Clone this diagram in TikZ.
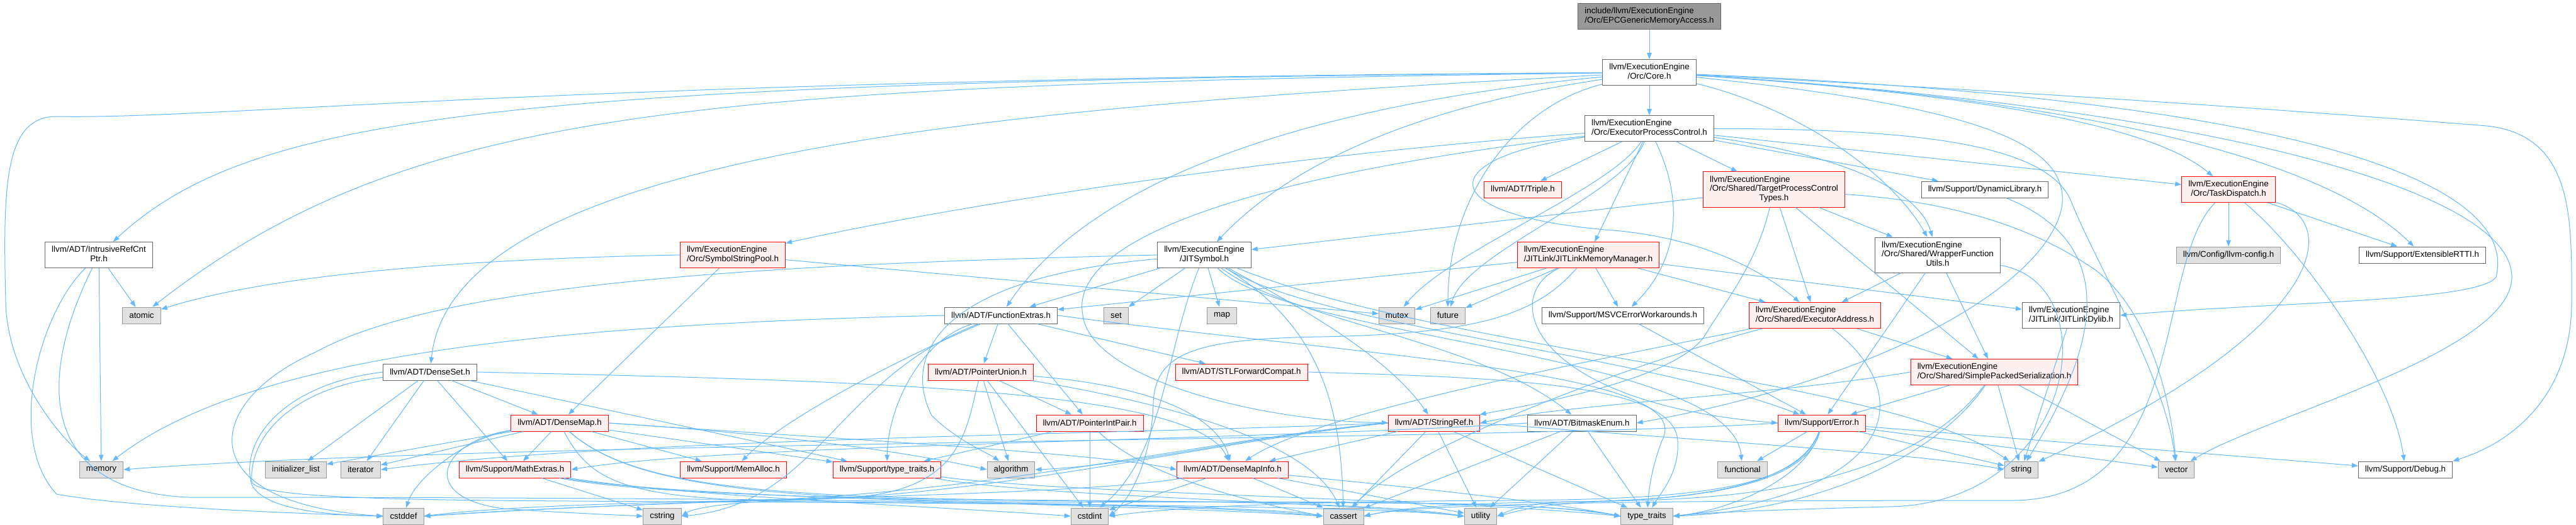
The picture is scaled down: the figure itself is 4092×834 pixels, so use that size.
\documentclass[tikz,border=0pt]{standalone}
\usepackage{fontspec}
\setmainfont{Liberation Sans}
\usetikzlibrary{arrows.meta}
\definecolor{edgeblue}{HTML}{63B8FF}
\definecolor{boxline}{HTML}{666666}
\definecolor{sysfill}{HTML}{E0E0E0}
\definecolor{sysline}{HTML}{999999}
\definecolor{redfill}{HTML}{FFF0F0}
\definecolor{rootfill}{HTML}{999999}
% doxygen style labels: upper lines left, last line centred
\newcommand{\twol}[2]{{\renewcommand{\arraystretch}{0.93}\begin{tabular}{@{}l@{}}#1\\\multicolumn{1}{@{}c@{}}{#2}\end{tabular}}}
\newcommand{\threel}[3]{{\renewcommand{\arraystretch}{0.93}\begin{tabular}{@{}l@{}}#1\\#2\\\multicolumn{1}{@{}c@{}}{#3}\end{tabular}}}

\begin{document}
\begin{tikzpicture}[x=0.75pt, y=-0.75pt,
  hdr/.style={draw=boxline, fill=white, line width=0.75pt, inner xsep=7.9pt, inner ysep=2pt,
    minimum height=19.5pt, font=\fontsize{10pt}{12pt}\selectfont},
  hdrred/.style={hdr, draw=red, fill=redfill},
  sys/.style={hdr, draw=sysline, fill=sysfill},
  rootf/.style={hdr, fill=rootfill},
  lines2/.style={minimum height=30.75pt},
  lines3/.style={minimum height=42pt},
  dep/.style={draw=edgeblue, line width=0.75pt, -{Triangle[length=7.5pt,width=5.5pt]}}]
\useasboundingbox (0,0) rectangle (4092,834);

% --- Rows 0-3: the file, Core.h, ExecutorProcessControl.h ---
\node[rootf, lines2] (root) at (2620,26) {\twol{include/llvm/ExecutionEngine}{/Orc/EPCGenericMemoryAccess.h}};
\node[hdr, lines2] (core) at (2620,115) {\twol{llvm/ExecutionEngine}{/Orc/Core.h}};
\node[hdr, lines2] (epc) at (2620,204) {\twol{llvm/ExecutionEngine}{/Orc/ExecutorProcessControl.h}};
\node[hdrred] (triple) at (2419,301) {llvm/ADT/Triple.h};
\node[hdrred, lines3] (tpct) at (2818,301) {\threel{llvm/ExecutionEngine}{/Orc/Shared/TargetProcessControl}{Types.h}};
\node[hdr] (dynlib) at (3153,301) {llvm/Support/DynamicLibrary.h};
\node[hdrred, lines2] (taskd) at (3540,301) {\twol{llvm/ExecutionEngine}{/Orc/TaskDispatch.h}};

% --- Row 4 ---
\node[hdr, lines2] (irc) at (157,405) {\twol{llvm/ADT/IntrusiveRefCnt}{Ptr.h}};
\node[hdrred, lines2] (ssp) at (1164,405) {\twol{llvm/ExecutionEngine}{/Orc/SymbolStringPool.h}};
\node[hdr, lines2] (jitsym) at (1913,405) {\twol{llvm/ExecutionEngine}{/JITSymbol.h}};
\node[hdrred, lines2] (jlmm) at (2523,405) {\twol{llvm/ExecutionEngine}{/JITLink/JITLinkMemoryManager.h}};
\node[hdr, lines3] (wfu) at (3078,405) {\threel{llvm/ExecutionEngine}{/Orc/Shared/WrapperFunction}{Utils.h}};
\node[sys] (llvmcfg) at (3540,405) {llvm/Config/llvm-config.h};
\node[hdr] (erttI) at (3848,405) {llvm/Support/ExtensibleRTTI.h};

% --- Row 5 ---
\node[sys] (atomic) at (225,501) {atomic};
\node[hdr] (fextras) at (1590,501) {llvm/ADT/FunctionExtras.h};
\node[sys] (set) at (1773,501) {set};
\node[sys] (map) at (1941,501) {map};
\node[sys] (mutex) at (2219,501) {mutex};
\node[sys] (future) at (2300,501) {future};
\node[hdr] (msvc) at (2578,501) {llvm/Support/MSVCErrorWorkarounds.h};
\node[hdrred, lines2] (execaddr) at (2883,501) {\twol{llvm/ExecutionEngine}{/Orc/Shared/ExecutorAddress.h}};
\node[hdr, lines2] (jldylib) at (3290,501) {\twol{llvm/ExecutionEngine}{/JITLink/JITLinkDylib.h}};

% --- Row 6 ---
\node[hdr] (denseset) at (683,591) {llvm/ADT/DenseSet.h};
\node[hdrred] (ptrunion) at (1558,591) {llvm/ADT/PointerUnion.h};
\node[hdrred] (stlfc) at (1972,591) {llvm/ADT/STLForwardCompat.h};
\node[hdrred, lines2] (sps) at (3168,591) {\twol{llvm/ExecutionEngine}{/Orc/Shared/SimplePackedSerialization.h}};

% --- Row 7 ---
\node[hdrred] (densemap) at (889,672) {llvm/ADT/DenseMap.h};
\node[hdrred] (ptrintpair) at (1731,672) {llvm/ADT/PointerIntPair.h};
\node[hdrred] (stringref) at (2278,672) {llvm/ADT/StringRef.h};
\node[hdr] (bitmask) at (2513,672) {llvm/ADT/BitmaskEnum.h};
\node[hdrred] (error) at (2894,672) {llvm/Support/Error.h};

% --- Row 8 ---
\node[sys] (memory) at (161,746) {memory};
\node[sys] (initlist) at (470,746) {initializer\_list};
\node[sys] (iterator) at (573,746) {iterator};
\node[hdrred] (mathext) at (818,746) {llvm/Support/MathExtras.h};
\node[hdrred] (memalloc) at (1165,746) {llvm/Support/MemAlloc.h};
\node[hdrred] (stypetraits) at (1409,746) {llvm/Support/type\_traits.h};
\node[sys] (algorithm) at (1606,746) {algorithm};
\node[hdrred] (dmi) at (1958,746) {llvm/ADT/DenseMapInfo.h};
\node[sys] (functional) at (2768,746) {functional};
\node[sys] (string) at (3211,746) {string};
\node[sys] (vector) at (3457,746) {vector};
\node[hdr] (debug) at (3821,746) {llvm/Support/Debug.h};

% --- Row 9 ---
\node[sys] (cstddef) at (641,820) {cstddef};
\node[sys] (cstring) at (1052,820) {cstring};
\node[sys] (cstdint) at (1731,820) {cstdint};
\node[sys] (cassert) at (2134,820) {cassert};
\node[sys] (utility) at (2352,820) {utility};
\node[sys] (typetraits) at (2616,820) {type\_traits};

% --- short dependencies ---
\foreach \a/\b in {root/core, core/epc, epc/triple, epc/tpct, epc/dynlib, epc/taskd, epc/jlmm,
  tpct/jitsym, tpct/execaddr, tpct/sps, tpct/wfu, taskd/llvmcfg, taskd/erttI,
  jlmm/fextras, jlmm/mutex, jlmm/future, jlmm/msvc, jlmm/execaddr, jlmm/jldylib,
  wfu/execaddr, wfu/sps, wfu/error, jldylib/string, msvc/error,
  jitsym/fextras, jitsym/set, jitsym/map, fextras/ptrunion, fextras/ptrintpair, fextras/stlfc,
  ptrunion/ptrintpair, ptrunion/algorithm, ptrunion/cstdint, ptrintpair/stypetraits, ptrintpair/cstdint,
  ssp/densemap, ssp/mutex, irc/atomic, irc/memory,
  denseset/densemap, denseset/mathext, denseset/stypetraits, denseset/initlist, denseset/iterator,
  densemap/mathext, densemap/memalloc, densemap/stypetraits, densemap/initlist, densemap/iterator,
  dmi/cassert, dmi/cstdint, dmi/utility, mathext/cstring,
  stringref/dmi, stringref/cassert, stringref/typetraits, stringref/utility,
  bitmask/cassert, bitmask/utility, bitmask/typetraits,
  execaddr/sps, sps/error, sps/string, sps/vector,
  error/debug, error/functional, error/string, error/vector}
  \draw[dep] (\a) -- (\b);

% --- Core.h ---
\draw[dep] (core) .. controls (800,130) and (400,180) .. (irc);
\draw[dep] (core) .. controls (900,125) and (350,190) .. (90,185) .. controls (5,185) and (5,300) .. (9,480) .. controls (12,600) and (100,700) .. (memory);
\draw[dep] (core) .. controls (1100,135) and (650,170) .. (atomic);
\draw[dep] (core) .. controls (1600,170) and (720,240) .. (denseset);
\draw[dep] (core) .. controls (2150,160) and (1750,260) .. (fextras);
\draw[dep] (core) .. controls (2250,170) and (2050,260) .. (jitsym);
\draw[dep] (core) .. controls (2400,170) and (2300,320) .. (future);
\draw[dep] (core) .. controls (3150,170) and (3290,230) .. (3275,330) .. controls (3250,450) and (3000,600) .. (bitmask.east);
\draw[dep] (core) .. controls (3700,160) and (4000,300) .. (3965,440) .. controls (3940,480) and (3600,480) .. (jldylib.east);
\draw[dep] (core) .. controls (2850,170) and (3000,270) .. (wfu);
\draw[dep] (core) .. controls (3150,150) and (3420,200) .. (taskd);
\draw[dep] (core) .. controls (3350,160) and (3700,260) .. (erttI);
\draw[dep] (core) .. controls (3300,150) and (3700,180) .. (3950,200) .. controls (4090,215) and (4085,350) .. (4085,480) .. controls (4085,620) and (4000,700) .. (debug.north east);
\draw[dep] (core) .. controls (3500,170) and (3990,300) .. (3990,440) .. controls (3990,560) and (3600,660) .. (vector);

% --- ExecutorProcessControl.h ---
\draw[dep] (epc) .. controls (2950,250) and (3050,310) .. (wfu);
\draw[dep] (epc) .. controls (2280,250) and (2270,340) .. (2550,365) .. controls (2700,375) and (2800,430) .. (execaddr);
\draw[dep] (epc) .. controls (2680,330) and (2660,420) .. (msvc);
\draw[dep] (epc) .. controls (2560,300) and (2300,400) .. (mutex);
\draw[dep] (epc) .. controls (2580,310) and (2330,400) .. (future);
\draw[dep] (epc) .. controls (2000,250) and (1500,330) .. (ssp);
\draw[dep] (epc) .. controls (1900,290) and (1700,400) .. (1720,500) .. controls (1730,600) and (2000,670) .. (stringref);
\draw[dep] (epc) .. controls (3000,205) and (3250,220) .. (3290,320) .. controls (3330,420) and (3440,600) .. (vector);

% --- TargetProcessControlTypes.h, DynamicLibrary.h, TaskDispatch.h ---
\draw[dep] (tpct) .. controls (2790,420) and (2740,480) .. (2710,530) .. controls (2670,600) and (2450,640) .. (stringref);
\draw[dep] (tpct) .. controls (3100,320) and (3230,360) .. (3330,430) .. controls (3420,500) and (3450,650) .. (vector);
\draw[dep] (dynlib) .. controls (3400,400) and (3300,600) .. (string);
\draw[dep] (taskd) .. controls (3660,400) and (3800,600) .. (debug);
\draw[dep] (taskd) .. controls (3720,350) and (3700,520) .. (string);
\draw[dep] (taskd) .. controls (3420,420) and (3480,790) .. (3200,795) .. controls (2600,795) and (2250,800) .. (cassert.east);

% --- JITLinkMemoryManager.h, WrapperFunctionUtils.h ---
\draw[dep] (jlmm) .. controls (2380,470) and (2430,640) .. (error.west);
\draw[dep] (jlmm) .. controls (2440,500) and (2350,530) .. (2100,535) .. controls (1900,538) and (1835,560) .. (1832,640) .. controls (1830,720) and (1800,790) .. (cstdint.east);
\draw[dep] (wfu) .. controls (3350,450) and (3300,800) .. (3000,805) .. controls (2800,810) and (2700,815) .. (typetraits.east);

% --- JITSymbol.h ---
\draw[dep] (jitsym) .. controls (1500,440) and (1430,560) .. (1480,660) .. controls (1520,700) and (1570,720) .. (algorithm);
\draw[dep] (jitsym.west) .. controls (1200,420) and (700,450) .. (500,560) .. controls (320,640) and (300,800) .. (cstddef.west);
\draw[dep] (jitsym) .. controls (1850,560) and (1850,720) .. (cstdint);
\draw[dep] (jitsym) .. controls (2100,520) and (2130,650) .. (cassert);
\draw[dep] (jitsym) .. controls (2050,480) and (2200,560) .. (stringref);
\draw[dep] (jitsym) .. controls (2050,510) and (2350,540) .. (bitmask);
\draw[dep] (jitsym) .. controls (2100,520) and (2600,560) .. (error);
\draw[dep] (jitsym) .. controls (2050,540) and (2750,560) .. (functional);
\draw[dep] (jitsym) .. controls (2300,560) and (3000,600) .. (string);

% --- FunctionExtras.h, PointerUnion.h, PointerIntPair.h, STLForwardCompat.h ---
\draw[dep] (fextras) .. controls (1450,560) and (1250,660) .. (memalloc);
\draw[dep] (fextras) .. controls (1460,540) and (1410,650) .. (stypetraits);
\draw[dep] (fextras) .. controls (1330,600) and (1300,800) .. (cstring.east);
\draw[dep] (fextras.west) .. controls (900,515) and (400,560) .. (memory);
\draw[dep] (fextras.east) .. controls (2200,570) and (2700,590) .. (2640,700) .. controls (2625,740) and (2620,770) .. (typetraits);
\draw[dep] (ptrunion) .. controls (1800,610) and (1930,650) .. (dmi);
\draw[dep] (ptrunion) .. controls (1850,640) and (2080,700) .. (cassert);
\draw[dep] (ptrunion) .. controls (1535,680) and (1530,780) .. (1350,790) .. controls (1000,800) and (800,812) .. (cstddef.east);
\draw[dep] (ptrintpair) .. controls (1820,760) and (2000,800) .. (cassert.west);
\draw[dep] (stlfc.east) .. controls (2400,600) and (2660,610) .. (2665,700) .. controls (2668,750) and (2640,780) .. (typetraits);

% --- SymbolStringPool.h, IntrusiveRefCntPtr.h ---
\draw[dep] (ssp.west) .. controls (800,410) and (450,430) .. (atomic);
\draw[dep] (irc) .. controls (60,500) and (10,700) .. (90,785) .. controls (200,805) and (450,815) .. (cstddef.west);
\draw[dep] (irc) .. controls (60,600) and (60,780) .. (300,790) .. controls (1200,790) and (2000,800) .. (cassert.west);

% --- DenseSet.h, DenseMap.h ---
\draw[dep] (denseset.east) .. controls (1400,605) and (1900,620) .. (dmi);
\draw[dep] (denseset.west) .. controls (450,610) and (380,700) .. (400,770) .. controls (420,810) and (520,818) .. (cstddef.west);
\draw[dep] (denseset) .. controls (470,615) and (395,690) .. (400,765) .. controls (405,795) and (700,795) .. (1100,797) .. controls (1700,800) and (2200,805) .. (utility.west);
\draw[dep] (densemap.east) .. controls (1300,695) and (1750,720) .. (dmi.west);
\draw[dep] (densemap.east) .. controls (1250,690) and (1450,720) .. (algorithm.west);
\draw[dep] (densemap) .. controls (940,770) and (1000,795) .. (1300,797) .. controls (1700,800) and (1950,805) .. (cassert.west);
\draw[dep] (densemap) .. controls (740,695) and (660,760) .. (cstddef);
\draw[dep] (densemap) .. controls (700,700) and (660,790) .. (800,808) .. controls (900,815) and (980,818) .. (cstring.west);
\draw[dep] (densemap) .. controls (1000,770) and (1200,795) .. (1700,798) .. controls (2200,795) and (2480,800) .. (typetraits.west);
\draw[dep] (densemap) .. controls (1000,770) and (1200,792) .. (1700,795) .. controls (2100,797) and (2250,808) .. (utility.west);

% --- DenseMapInfo.h, MathExtras.h, type_traits.h ---
\draw[dep] (dmi) .. controls (1700,790) and (1100,790) .. (cstddef.east);
\draw[dep] (dmi) .. controls (2200,770) and (2450,795) .. (typetraits.west);
\draw[dep] (mathext) .. controls (1100,795) and (1800,800) .. (cassert.west);
\draw[dep] (mathext) .. controls (1100,790) and (1500,805) .. (cstdint.west);
\draw[dep] (mathext) .. controls (1100,800) and (1800,795) .. (2300,800) .. controls (2450,803) and (2530,812) .. (typetraits.west);
\draw[dep] (stypetraits) .. controls (1700,785) and (2300,792) .. (typetraits.west);
\draw[dep] (stypetraits) .. controls (1650,790) and (2100,795) .. (utility.west);

% --- StringRef.h, BitmaskEnum.h ---
\draw[dep] (stringref.west) .. controls (2000,690) and (1800,740) .. (algorithm.east);
\draw[dep] (stringref.west) .. controls (1900,700) and (1600,780) .. (1200,795) .. controls (900,800) and (750,810) .. (cstddef.east);
\draw[dep] (stringref.west) .. controls (1900,705) and (1600,785) .. (1250,795) .. controls (1150,798) and (1100,808) .. (cstring.east);
\draw[dep] (stringref.west) .. controls (1800,690) and (1000,695) .. (iterator.east);
\draw[dep] (stringref.east) .. controls (2700,700) and (3050,720) .. (string.west);
\draw[dep] (bitmask.west) .. controls (2000,700) and (1150,705) .. (mathext.east);

% --- ExecutorAddress.h, SimplePackedSerialization.h ---
\draw[dep] (execaddr) .. controls (2600,560) and (2100,650) .. (dmi);
\draw[dep] (execaddr) .. controls (2650,560) and (2250,700) .. (cassert);
\draw[dep] (execaddr) .. controls (3040,620) and (3030,780) .. (typetraits.east);
\draw[dep] (sps) .. controls (3080,720) and (2900,810) .. (typetraits.east);
\draw[dep] (sps) .. controls (3040,760) and (2800,790) .. (2600,795) .. controls (2450,798) and (2420,810) .. (utility.east);
\draw[dep] (sps.west) .. controls (2800,630) and (2500,640) .. (stringref.east);

% --- Error.h ---
\draw[dep] (error.west) .. controls (2400,700) and (800,700) .. (memory.east);
\draw[dep] (error) .. controls (2870,770) and (2700,795) .. (2500,797) .. controls (2300,799) and (2220,808) .. (cassert.east);
\draw[dep] (error) .. controls (2860,775) and (2700,793) .. (2400,795) .. controls (2000,797) and (1850,808) .. (cstdint.east);
\draw[dep] (error) .. controls (2870,760) and (2750,810) .. (typetraits.east);
\draw[dep] (error) .. controls (2860,770) and (2700,795) .. (2500,797) .. controls (2430,798) and (2400,810) .. (utility.east);
\end{tikzpicture}
\end{document}
